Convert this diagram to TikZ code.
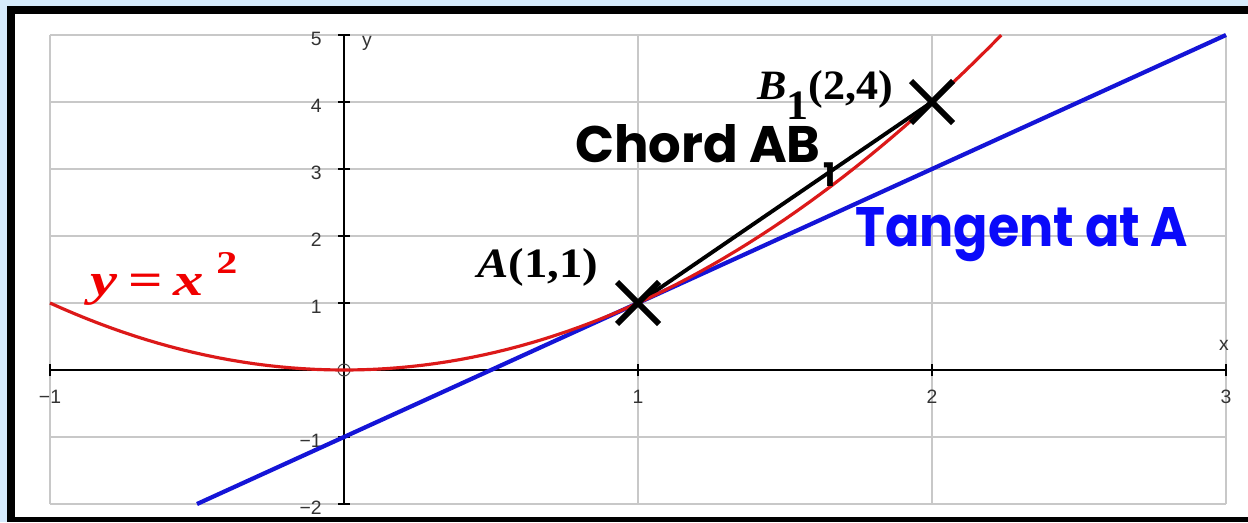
\documentclass[tikz,border=0pt]{standalone}
\usepackage{fontspec}
\usepackage{graphicx}
\setmainfont{Liberation Serif}
\newfontfamily\comicfont{Poppins}
\newfontfamily\tickfont{Liberation Sans}
\definecolor{bgblue}{RGB}{214,235,252}
\definecolor{gridgray}{RGB}{200,200,200}
\definecolor{curvered}{RGB}{220,25,25}
\definecolor{tanblue}{RGB}{20,20,215}
\definecolor{labelred}{RGB}{240,0,0}
\definecolor{labelblue}{RGB}{10,10,250}
\begin{document}
\begin{tikzpicture}[x=5.88cm,y=1.34cm,
  gridline/.style={gridgray, line width=1pt},
  axisline/.style={black, line width=1.1pt},
  ticklabel/.style={font=\tickfont\fontsize{11}{11}\selectfont, text=black!80, inner sep=0pt},
  crossmark/.style={line width=3.4pt},
  biglabel/.style={inner sep=0pt, anchor=base west}]
\useasboundingbox (-1.1701,-2.2687) rectangle (3.0748,5.5224);
% slide background and frame
\fill[bgblue] (-1.1701,-2.2687) rectangle (3.0748,5.5224);
\fill[black] (-1.1463,-2.2687) rectangle (3.0748,5.4328);
\fill[white] (-1.1190,-2.1940) rectangle (3.0748,5.3134);
% grid
\foreach \i in {-1,...,3} \draw[gridline] (\i,-2) -- (\i,5);
\foreach \j in {-2,...,5} \draw[gridline] (-1,\j) -- (3,\j);
% axes
\draw[axisline] (-1,0) -- (3,0);
\draw[axisline] (0,-2) -- (0,5);
\foreach \i/\n/\t in {-1/m1/−1,1/p1/1,2/p2/2,3/p3/3} {
  \draw[axisline] (\i,0) ++(0,-0.12cm) -- ++(0,0.24cm);
  \node[ticklabel] (xt\n) at (\i,-0.40) {\t};
}
\foreach \j/\n/\t in {-2/m2/−2,-1/m1/−1,1/p1/1,2/p2/2,3/p3/3,4/p4/4,5/p5/5} {
  \draw[axisline] (0,\j) ++(-0.12cm,0) -- ++(0.24cm,0);
  \node[ticklabel, anchor=east] (yt\n) at (-0.075,\j-0.06) {\t};
}
\node[ticklabel] (ylab) at (0.078,4.881) {y};
\node[ticklabel] (xlab) at (2.993,0.373) {x};
% origin marker
\draw[black!70, line width=0.6pt] (0,0) circle (0.12cm);
% points
\coordinate (A) at (1,1);
\coordinate (B) at (2,4);
\coordinate (T0) at (-0.5,-2);
\coordinate (T1) at (3,5);
% tangent at A
\draw[tanblue, line width=2.4pt] (T0) -- (T1);
% chord
\draw[line width=2.2pt] (A) -- (B);
% y = x^2
\draw[curvered, line width=1.8pt, domain=-1:2.2361, samples=80] plot (\x,{\x*\x});
% crosses
\foreach \p in {A,B} {
  \draw[crossmark] (\p) ++(-0.42cm,-0.42cm) -- ++(0.84cm,0.84cm);
  \draw[crossmark] (\p) ++(-0.42cm,0.42cm) -- ++(0.84cm,-0.84cm);
}
% labels
\node[biglabel, text=labelred] (curvelab) at (-0.864,1.119)
  {\resizebox{2.94cm}{0.86cm}{\fontsize{26}{26}\selectfont\bfseries\itshape y\hspace{0.18em}\upshape=\hspace{0.18em}\itshape x\hspace{0.2em}\upshape\raisebox{0.48em}{\fontsize{18}{18}\selectfont 2}}};
\node[biglabel] (alab) at (0.452,1.388)
  {\resizebox{2.42cm}{0.58cm}{\fontsize{21}{21}\selectfont\bfseries\itshape A\upshape(1,1)}};
\node[biglabel] (blab) at (1.405,4.030)
  {\resizebox{2.72cm}{0.58cm}{\fontsize{21}{21}\selectfont\bfseries\itshape B\upshape\raisebox{-0.46em}{1}(2,4)}};
\node[biglabel] (chordlab) at (0.786,3.090)
  {\resizebox{5.2cm}{0.76cm}{\fontsize{30}{30}\selectfont\comicfont\bfseries Chord AB\hspace{0.05em}\raisebox{-0.45em}{\fontsize{19}{19}\selectfont 1}}};
\node[biglabel, text=labelblue] (tanlab) at (1.738,1.836)
  {\resizebox{6.66cm}{0.78cm}{\fontsize{30}{30}\selectfont\comicfont\bfseries Tangent at A}};
\end{tikzpicture}
\end{document}
